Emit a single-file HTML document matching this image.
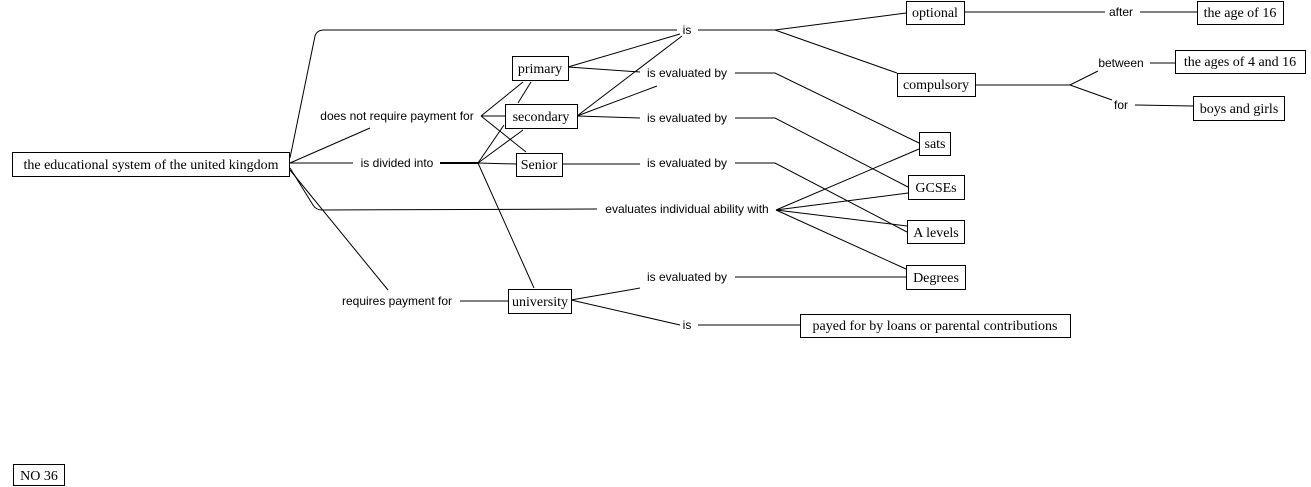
<!DOCTYPE html>
<html><head><meta charset="utf-8"><style>
body{margin:0;background:#fff;width:1311px;height:487px;overflow:hidden}
svg{display:block}
.b{fill:#fff;stroke:#000;stroke-width:1}
.n{font-family:"Liberation Serif",serif;font-size:14px}
.l{font-family:"Liberation Sans",sans-serif;font-size:12px}
line,polyline,path{stroke:#000;fill:none;stroke-width:1}
</style></head><body>
<svg width="1311" height="487" xmlns="http://www.w3.org/2000/svg">
<!-- connectors -->
<path d="M290,158 L315,36 Q317,30 324,30 L677,30"/>
<polyline points="698,30 775,30 906,13"/>
<line x1="775" y1="30" x2="897" y2="73"/>
<line x1="964" y1="12" x2="1105" y2="12"/>
<line x1="1140" y1="12" x2="1197" y2="12"/>
<polyline points="975,85 1070,85 1098,71"/>
<line x1="1070" y1="85" x2="1112" y2="100"/>
<line x1="1150" y1="63" x2="1175" y2="63"/>
<line x1="1135" y1="105" x2="1193" y2="106"/>
<line x1="568" y1="67" x2="680" y2="34"/>
<line x1="568" y1="67" x2="640" y2="72"/>
<line x1="577" y1="116" x2="682" y2="36"/>
<line x1="577" y1="116" x2="657" y2="86"/>
<line x1="577" y1="116" x2="640" y2="118"/>
<line x1="562" y1="164" x2="640" y2="164"/>
<polyline points="735,73 775,73 919,143"/>
<polyline points="735,118 775,118 908,187"/>
<polyline points="735,163 775,163 907,232"/>
<line x1="735" y1="277" x2="906" y2="277"/>
<line x1="776" y1="210" x2="919" y2="149"/>
<line x1="776" y1="210" x2="908" y2="193"/>
<line x1="776" y1="210" x2="907" y2="226"/>
<line x1="776" y1="210" x2="906" y2="269"/>
<path d="M290,168 L313,205 Q316,210 322,210 L597,209"/>
<line x1="290" y1="163" x2="370" y2="128"/>
<line x1="290" y1="163" x2="353" y2="163"/>
<line x1="440" y1="163" x2="478" y2="163" style="stroke-width:2"/>
<line x1="478" y1="163" x2="516" y2="164"/>
<line x1="478" y1="163" x2="504" y2="125"/>
<line x1="478" y1="163" x2="523" y2="130"/>
<line x1="478" y1="163" x2="534" y2="288"/>
<line x1="481" y1="116" x2="523" y2="82"/>
<line x1="518" y1="103" x2="531" y2="82"/>
<line x1="481" y1="116" x2="505" y2="116"/>
<line x1="481" y1="116" x2="526" y2="152"/>
<line x1="290" y1="170" x2="388" y2="290"/>
<line x1="460" y1="301" x2="508" y2="301"/>
<line x1="571" y1="300" x2="640" y2="288"/>
<line x1="571" y1="300" x2="680" y2="325"/>
<line x1="698" y1="325" x2="800" y2="325"/>
<!-- labels -->
<g class="l" text-anchor="middle">
<text x="687" y="34">is</text>
<text x="1121" y="16">after</text>
<text x="1121" y="67">between</text>
<text x="1121" y="109">for</text>
<text x="687" y="77">is evaluated by</text>
<text x="687" y="122">is evaluated by</text>
<text x="687" y="167">is evaluated by</text>
<text x="687" y="213">evaluates individual ability with</text>
<text x="687" y="281">is evaluated by</text>
<text x="687" y="329">is</text>
<text x="397" y="120">does not require payment for</text>
<text x="397" y="167">is divided into</text>
<text x="397" y="305">requires payment for</text>
</g>
<!-- nodes -->
<g class="n" text-anchor="middle">
<rect class="b" x="12.5" y="152.5" width="277" height="24"/><text x="151" y="169">the educational system of the united kingdom</text>
<rect class="b" x="906.5" y="1.5" width="58" height="23"/><text x="935" y="17">optional</text>
<rect class="b" x="1197.5" y="1.5" width="86" height="23"/><text x="1240" y="17">the age of 16</text>
<rect class="b" x="897.5" y="73.5" width="78" height="23"/><text x="936" y="89">compulsory</text>
<rect class="b" x="1175.5" y="50.5" width="130" height="23"/><text x="1240" y="66">the ages of 4 and 16</text>
<rect class="b" x="1193.5" y="96.5" width="91" height="24"/><text x="1239" y="113">boys and girls</text>
<rect class="b" x="919.5" y="132.5" width="31" height="23"/><text x="935" y="148">sats</text>
<rect class="b" x="908.5" y="175.5" width="56" height="24"/><text x="936" y="192">GCSEs</text>
<rect class="b" x="907.5" y="220.5" width="57" height="23"/><text x="936" y="237">A levels</text>
<rect class="b" x="906.5" y="265.5" width="59" height="24"/><text x="936" y="282">Degrees</text>
<rect class="b" x="800.5" y="314.5" width="270" height="23"/><text x="935" y="330">payed for by loans or parental contributions</text>
<rect class="b" x="512.5" y="56.5" width="56" height="24"/><text x="540" y="73">primary</text>
<rect class="b" x="505.5" y="104.5" width="72" height="24"/><text x="541" y="121">secondary</text>
<rect class="b" x="516.5" y="153.5" width="46" height="23"/><text x="539" y="169">Senior</text>
<rect class="b" x="508.5" y="289.5" width="63" height="24"/><text x="540" y="306">university</text>
<rect class="b" x="13.5" y="464.5" width="51" height="21"/><text x="39" y="480">NO 36</text>
</g>
</svg>
</body></html>
